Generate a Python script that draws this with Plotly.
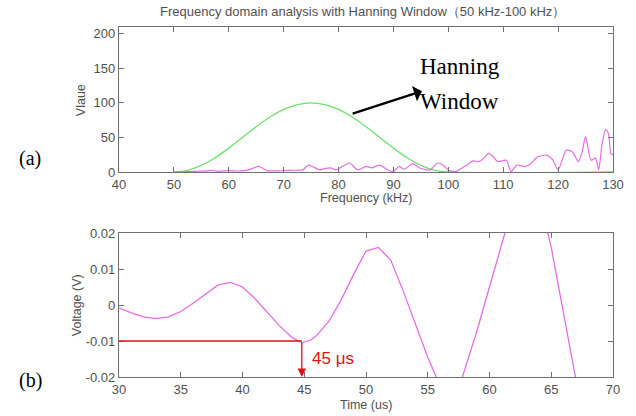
import plotly.graph_objects as go

# ---------------- data ----------------
# (a) Hanning window (green)
win_freq = [50, 52.5, 55, 57.5, 60, 62.5, 65, 67.5, 70, 72.5, 75, 77.5, 80,
            82.5, 85, 87.5, 90, 92.5, 95, 97.5, 100, 130]
win_val = [0, 2.4, 9.5, 20.6, 34.5, 50, 65.4, 79.4, 90.4, 97.5, 100, 97.5, 90.4,
           79.4, 65.4, 50, 34.5, 20.6, 9.5, 2.4, 0, 0]

# (a) spectrum (magenta)
spec_freq = [50, 52, 54, 56, 57, 58, 60, 62, 63.5, 65.5, 67, 68.5, 70, 72, 73.5, 74.5,
             75.5, 76.5, 77.5, 78.5, 79.5, 80.5, 82, 83.5, 85, 86, 87.5, 89, 90, 91,
             92, 93.5, 95, 96.7, 98, 99, 100, 101.3, 102.3, 103.4, 104.5, 105.5, 106.5,
             107.3, 108.2, 109, 110.6, 111.4, 112.5, 114, 115, 116.3, 117.9, 119, 120,
             121.5, 122.6, 123.7, 124.4, 125, 126, 126.8, 127.4, 128.0, 128.7, 129.2,
             129.6, 130]
spec_val = [0, 0.5, 1, 1.5, 2.5, 1, 2, 1.5, 3, 8, 2, 1.5, 2, 2.5, 3, 10,
            7, 3, 5, 6, 3, 7, 13, 3, 8, 6, 10, 3, 0.5, 8,
            4, 12, 5, 3, 13, 10, 3, 0.5, 5, 10, 16, 15, 20,
            27, 22, 15, 17, 0.5, 10, 7.7, 12, 22, 24.5, 18, 3,
            32, 29, 15, 30, 51, 17, 20, 3, 40, 61.5, 55,
            27, 25]

# (b) time signal (magenta)
time_us = [30, 31, 32, 33, 34, 35, 36, 37, 38, 39, 40, 41, 42, 43, 44, 44.8, 45.5,
           46, 47, 48, 49, 50, 51, 52, 53, 54, 55, 56, 56.8, 57.3, 58, 59, 60, 61,
           62, 63, 64, 65, 66, 67, 67.5]
voltage = [-0.0008, -0.0022, -0.0033, -0.0038, -0.0033, -0.0018, 0.0005, 0.003,
           0.0055, 0.0063, 0.005, 0.0018, -0.002, -0.0058, -0.009, -0.0105, -0.0098,
           -0.0085, -0.0045, 0.0015, 0.0085, 0.015, 0.016, 0.0125, 0.004, -0.0055,
           -0.0145, -0.0225, -0.026, -0.0255, -0.018, -0.007, 0.005, 0.0175,
           0.029, 0.035, 0.03, 0.016, -0.002, -0.021, -0.03]

# annotation values
marker_time = 44.8
marker_volt = -0.01
arrow_tail = (82.3, 83.6)
arrow_head = (95.2, 116.8)

freq_ticks = [40, 50, 60, 70, 80, 90, 100, 110, 120, 130]
val_ticks = [0, 50, 100, 150, 200]
time_ticks = [30, 35, 40, 45, 50, 55, 60, 65, 70]
volt_ticks = [-0.02, -0.01, 0, 0.01, 0.02]
volt_labels = ["-0.02", "-0.01", "0", "0.01", "0.02"]

# ---------------- figure ----------------
MAG = "#e46de4"
GRN = "#6ee06e"
RED = "#dd1111"
AXC = "#707070"
TXT = "#505050"
FONT = "Liberation Sans"

fig = go.Figure()
fig.add_trace(go.Scatter(x=win_freq, y=win_val, mode="lines", line_shape="spline",
                         line=dict(color=GRN, width=1.3), xaxis="x", yaxis="y",
                         showlegend=False, hoverinfo="skip"))
fig.add_trace(go.Scatter(x=spec_freq, y=spec_val, mode="lines", line_shape="spline",
                         line=dict(color=MAG, width=1.2, smoothing=0.6),
                         xaxis="x", yaxis="y", showlegend=False))
fig.add_trace(go.Scatter(x=time_us, y=voltage, mode="lines",
                         line=dict(color=MAG, width=1.3), xaxis="x2", yaxis="y2",
                         showlegend=False))

axis_common = dict(showgrid=False, zeroline=False, showline=True, linecolor=AXC,
                   linewidth=1.2, mirror="ticks", ticks="inside", ticklen=5,
                   tickcolor=AXC, tickfont=dict(family=FONT, size=13, color=TXT))

fig.update_layout(
    width=636, height=416,
    margin=dict(l=119, r=21, t=27, b=39),
    paper_bgcolor="white", plot_bgcolor="white",
    xaxis=dict(domain=[0, 1], anchor="y", range=[40, 130], tickvals=freq_ticks,
               **axis_common),
    yaxis=dict(domain=[0.5857, 1], anchor="x", range=[0, 209.5], tickvals=val_ticks,
               **axis_common),
    xaxis2=dict(domain=[0, 1], anchor="y2", range=[30, 70], tickvals=time_ticks,
                **axis_common),
    yaxis2=dict(domain=[0, 0.4114], anchor="x2", range=[-0.02, 0.02],
                tickvals=volt_ticks, ticktext=volt_labels, **axis_common),
)

PW = 496.0
PH = 350.0


def px(xp):
    return (xp - 119) / PW


def py(yp):
    return (377 - yp) / PH


title_font = dict(family=FONT, size=12.5, color=TXT)


def label(text, x, y, font, angle=0):
    fig.add_annotation(text=text, xref="paper", yref="paper", x=px(x), y=py(y),
                       xanchor="center", yanchor="middle", textangle=angle,
                       showarrow=False, font=font)


label("Frequency domain analysis with Hanning Window（50 kHz-100 kHz）", 363, 12,
      dict(family=FONT, size=13, color=TXT))
label("Frequency (kHz)", 367, 198, title_font)
label("Time (us)", 367, 405, title_font)
label("Vlaue", 81, 100, title_font, -90)
label("Voltage (V)", 77, 305, title_font, -90)

# Hanning Window label and arrow
fig.add_annotation(x=arrow_head[0], y=arrow_head[1], ax=arrow_tail[0], ay=arrow_tail[1],
                   xref="x", yref="y", axref="x", ayref="y", text="",
                   showarrow=True, arrowhead=1, arrowsize=1.2, arrowwidth=2.2,
                   arrowcolor="black")
serif = dict(family="Liberation Serif", size=23, color="black")
label("Hanning", 461, 66, serif)
label("Window", 461, 101, serif)

# 45 us marker in (b)
fig.add_shape(type="line", xref="x2", yref="y2", x0=30, x1=marker_time,
              y0=marker_volt, y1=marker_volt, line=dict(color=RED, width=1.3))
fig.add_annotation(x=marker_time, y=-0.02, ax=marker_time, ay=marker_volt,
                   xref="x2", yref="y2", axref="x2", ayref="y2", text="",
                   showarrow=True, arrowhead=2, arrowsize=1.3, arrowwidth=1.3,
                   arrowcolor=RED)
fig.add_annotation(text="45 μs", xref="x2", yref="y2", x=47.3, y=-0.0149,
                   showarrow=False, font=dict(family=FONT, size=17, color=RED))

# panel labels
panel_font = dict(family="Liberation Serif", size=20, color="black")
label("(a)", 30, 158, panel_font)
label("(b)", 30, 380, panel_font)

fig.write_html("out.html")
